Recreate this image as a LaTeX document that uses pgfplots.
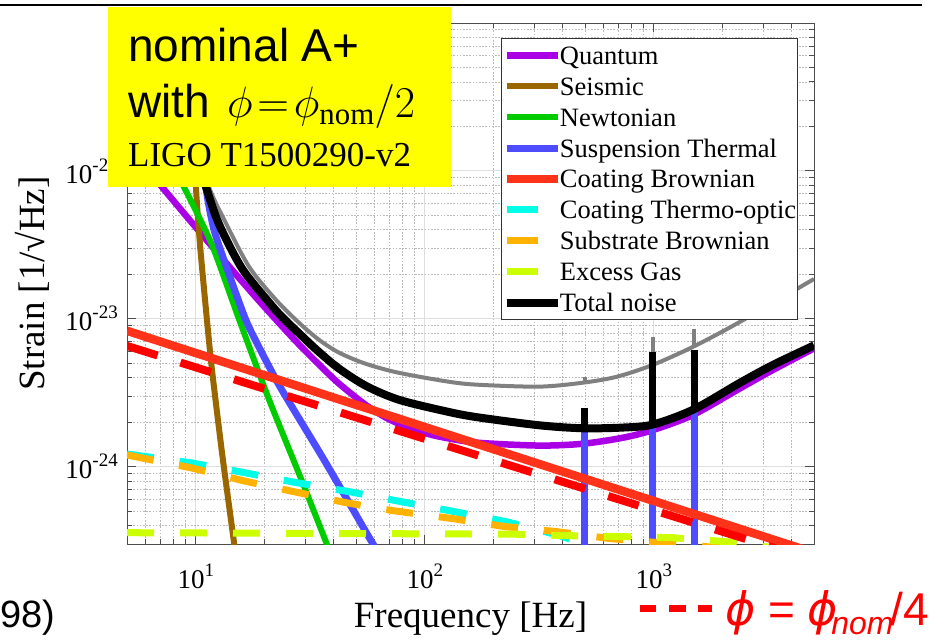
\documentclass[border=0pt]{standalone}
\usepackage{fix-cm}
\usepackage{pgfplots}
\pgfplotsset{compat=1.18}
\usepackage{fontspec}
\setmainfont{Liberation Serif}
\newfontfamily\arialfont{Liberation Sans}
\newfontfamily\djv{DejaVu Sans}
\definecolor{cQ}{RGB}{170,0,230}
\definecolor{cS}{RGB}{153,102,0}
\definecolor{cN}{RGB}{0,204,0}
\definecolor{cST}{RGB}{77,77,255}
\definecolor{cCB}{RGB}{255,51,26}
\definecolor{cTO}{RGB}{0,255,230}
\definecolor{cSB}{RGB}{255,178,0}
\definecolor{cEG}{RGB}{204,255,0}
\definecolor{cGr}{RGB}{128,128,128}
\definecolor{cY}{RGB}{255,255,0}
\newcommand{\tl}[1]{10\raisebox{12pt}{\fontsize{19}{19}\selectfont #1}}
\pgfplotsset{
  solidleg/.style={legend image code/.code={\draw[##1,line cap=butt] (0pt,0pt) -- (51pt,0pt);}},
  dashleg/.style={legend image code/.code={\path (0pt,0pt) -- (51pt,0pt);\draw[##1,solid,line cap=butt] (3pt,0pt) -- (31pt,0pt);}},
}
\begin{document}
\begin{tikzpicture}[x=1pt,y=1pt]
\begin{axis}[
  at={(127pt,97pt)}, anchor=south west,
  scale only axis, width=687pt, height=521pt,
  xmode=log, ymode=log,
  xmin=5, xmax=5000, ymin=3e-25, ymax=1e-21,
  xtick={10,100,1000}, xticklabels={\tl{1},\tl{2},\tl{3}},
  ytick={1e-24,1e-23,1e-22}, yticklabels={\tl{-24},\tl{-23},\tl{-22}},
  minor xtick={6,7,8,9,20,30,40,50,60,70,80,90,200,300,400,500,600,700,800,900,2000,3000,4000},
  minor ytick={4e-25,5e-25,6e-25,7e-25,8e-25,9e-25,2e-24,3e-24,4e-24,5e-24,6e-24,7e-24,8e-24,9e-24,2e-23,3e-23,4e-23,5e-23,6e-23,7e-23,8e-23,9e-23,2e-22,3e-22,4e-22,5e-22,6e-22,7e-22,8e-22,9e-22},
  grid=both,
  major grid style={draw=black!13, line width=0.9pt},
  minor grid style={draw=black!28, line width=0.8pt, dash pattern=on 1.6pt off 1.6pt},
  axis line style={draw=black!70, line width=1pt},
  tick style={draw=black!70, line width=0.9pt},
  major tick length=9pt, minor tick length=5pt,
  tick label style={font=\fontsize{27}{27}\selectfont},
  xticklabel style={anchor=north, inner sep=0pt, yshift=-20pt},
  yticklabel style={anchor=east, inner sep=0pt, xshift=-9pt},
  xlabel={Frequency [Hz]},
  ylabel={Strain [1/√Hz]},
  xlabel style={at={(axis description cs:0.5,-0.1593)}, anchor=base, font=\fontsize{37}{37}\selectfont},
  ylabel style={at={(axis description cs:-0.1194,0.5)}, anchor=base, font=\fontsize{37}{37}\selectfont},
  legend cell align=left,
  legend style={at={(axis description cs:0.5445,0.9712)}, anchor=north west,
    draw=black!80, line width=0.8pt, fill=white,
    inner xsep=1pt, inner ysep=4.4pt, row sep=5.9pt, column sep=-2pt,
    font=\fontsize{26.5}{26.5}\selectfont,
    nodes={inner sep=0pt, text height=21.5pt, text depth=3.5pt}},
  every axis plot/.append style={line join=round},
]
% Quantum
\addplot[cQ, line width=6.5pt, smooth, tension=0.5, solidleg] coordinates {
(5,1.5e-22) (7.1,7.8e-23) (9.6,4.47e-23) (13.5,2.40e-23) (18.9,1.318e-23) (26.9,7.24e-24) (34.5,4.90e-24) (42.3,3.63e-24) (55.5,2.60e-24) (72.1,2.04e-24) (101.5,1.68e-24) (128,1.55e-24) (173,1.45e-24) (317,1.39e-24) (489,1.43e-24) (731,1.57e-24) (990,1.77e-24) (1482,2.24e-24) (2378,3.39e-24) (3317,4.52e-24) (5000,6.31e-24)};
\addlegendentry{Quantum}
% Seismic
\addplot[cS, line width=6pt, smooth, tension=0.4, solidleg] coordinates {
(9.7,3e-22) (10.0,7.8e-23) (10.45,3.0e-23) (11.17,9.84e-24) (11.75,4.52e-24) (13.0,1.24e-24) (14.67,3.06e-25) (15.5,1.6e-25)};
\addlegendentry{Seismic}
% Newtonian
\addplot[cN, line width=6pt, smooth, tension=0.4, solidleg] coordinates {
(5,4.3e-22) (8.86,7.8e-23) (11.75,3.16e-23) (15.4,1.0e-23) (20.9,2.82e-24) (29.1,7.94e-25) (37.1,3.06e-25) (41.7,1.9e-25)};
\addlegendentry{Newtonian}
% Suspension thermal
\addplot[cST, line width=7pt, smooth, tension=0.4, solidleg] coordinates {
(10.2,3e-22) (11.06,7.8e-23) (12.0,3.99e-23) (13.95,2.0e-23) (16.2,1.06e-23) (17.6,7.94e-24) (23.1,3.55e-24) (36.3,1.11e-24) (58.9,3.06e-25) (70.8,1.95e-25)};
\addlegendentry{Suspension Thermal}
\addplot[cST, line width=7pt, forget plot] coordinates {(499,1e-25) (499,1.80e-24)};
\addplot[cST, line width=7pt, forget plot] coordinates {(990,1e-25) (990,1.92e-24)};
\addplot[cST, line width=7pt, forget plot] coordinates {(1496,1e-25) (1496,2.35e-24)};
% Coating Brownian
\addplot[cCB, line width=8.5pt, solidleg] coordinates {(5,8.3e-24) (5000,2.62e-25)};
\addlegendentry{Coating Brownian}
% Coating thermo-optic
\addplot[cTO, line width=7pt, dash pattern=on 27pt off 26pt, dashleg] coordinates {
(5,1.22e-24) (9.6,1.06e-24) (16.4,9.1e-25) (27.7,7.79e-25) (46.8,6.78e-25) (75.0,5.89e-25) (134.6,4.97e-25) (227,4.25e-25) (376,3.47e-25) (500,3.0e-25) (560,2.4e-25) (590,1.4e-25) (620,1.2e-25) (700,1.8e-25) (1000,2.2e-25) (5000,1.8e-25)};
\addlegendentry{Coating Thermo-optic}
% Substrate Brownian
\addplot[cSB, line width=7pt, dash pattern=on 27pt off 26pt, dashleg] coordinates {
(5,1.2e-24) (9.5,9.84e-25) (16.1,8.04e-25) (26.8,6.78e-25) (45.3,5.71e-25) (72.1,5.05e-25) (132,4.46e-25) (223,3.94e-25) (376,3.64e-25) (641,3.27e-25) (1062,3.06e-25) (5000,2.5e-25)};
\addlegendentry{Substrate Brownian}
% Excess gas
\addplot[cEG, line width=7pt, dash pattern=on 27pt off 26pt, dashleg] coordinates {
(5,3.58e-25) (241,3.5e-25) (416,3.42e-25) (710,3.37e-25) (1211,3.31e-25) (2084,3.11e-25) (5000,2.6e-25)};
\addlegendentry{Excess Gas}
% Gray reference total
\addplot[cGr, line width=4pt, smooth, tension=0.5, forget plot] coordinates {
(9.2,2.2e-22) (11.4,7.8e-23) (13.5,4.46e-23) (17.1,2.24e-23) (22.4,1.34e-23) (28.2,9.4e-24) (34.5,7.21e-24) (42.3,5.89e-24) (55.5,4.95e-24) (77.3,4.31e-24) (128,3.75e-24) (173,3.58e-24) (317,3.48e-24) (489,3.7e-24) (689,4.06e-24) (990,4.89e-24) (1482,6.47e-24) (2378,9.55e-24) (5000,1.86e-23)};
\addplot[cGr, line width=4pt, forget plot] coordinates {(499,3.7e-24) (499,4.06e-24)};
\addplot[cGr, line width=4pt, forget plot] coordinates {(990,4.89e-24) (990,7.55e-24)};
\addplot[cGr, line width=4pt, forget plot] coordinates {(1496,6.5e-24) (1496,8.55e-24)};
% Total
\addplot[black, line width=8pt, smooth, tension=0.5, solidleg] coordinates {
(9.0,2.1e-22) (11.06,7.8e-23) (12.61,4.37e-23) (15.9,2.19e-23) (20.9,1.288e-23) (23.8,1.028e-23) (28.2,7.98e-24) (34.5,5.96e-24) (42.3,4.59e-24) (55.5,3.51e-24) (77.3,2.83e-24) (128,2.34e-24) (173,2.15e-24) (317,1.905e-24) (489,1.82e-24) (731,1.84e-24) (990,1.93e-24) (1482,2.43e-24) (2378,3.7e-24) (3317,4.89e-24) (5000,6.61e-24)};
\addlegendentry{Total noise}
\addplot[black, line width=7pt, forget plot] coordinates {(499,1.82e-24) (499,2.5e-24)};
\addplot[black, line width=7pt, forget plot] coordinates {(990,1.93e-24) (990,5.98e-24)};
\addplot[black, line width=7pt, forget plot] coordinates {(1496,2.45e-24) (1496,6.18e-24)};
% Coating Brownian, phi = phi_nom/4
\addplot[red, line width=8pt, dash pattern=on 32pt off 24pt, forget plot] coordinates {(5,6.56e-24) (5000,2.33e-25)};
\end{axis}
% slide decorations
\draw[black, line width=2.5pt] (0,636) -- (922,636);
\fill[cY] (108,454) rectangle (451,634);
\node[anchor=base west, inner sep=0pt, font=\arialfont\fontsize{46}{46}\selectfont] at (128,579) {nominal A+};
\node[anchor=base west, inner sep=0pt, font=\arialfont\fontsize{46}{46}\selectfont] at (128,523) {with\hspace{17pt}{\fontsize{44}{44}\selectfont\thickmuskip=2mu$\phi=\phi_{\mathrm{nom}}/2$}};
\node[anchor=base west, inner sep=0pt, font=\fontsize{35}{35}\selectfont] at (128,474) {LIGO T1500290-v2};
\node[anchor=base west, inner sep=0pt, font=\arialfont\fontsize{38}{38}\selectfont] at (0,14) {98)};
\draw[red, line width=7pt] (640,33) -- (656,33) (669,33) -- (686,33) (698,33) -- (712,33);
\node[anchor=base west, inner sep=0pt, text=red, font=\arialfont\fontsize{46}{46}\selectfont] at (725,16) {{\djv\itshape ϕ} = {\djv\itshape ϕ}\kern-7pt\raisebox{-9pt}{\fontsize{32}{32}\selectfont\itshape nom}\kern-3pt/4};
\pgfresetboundingbox
\useasboundingbox (0,0) rectangle (931,641);
\end{tikzpicture}
\end{document}
